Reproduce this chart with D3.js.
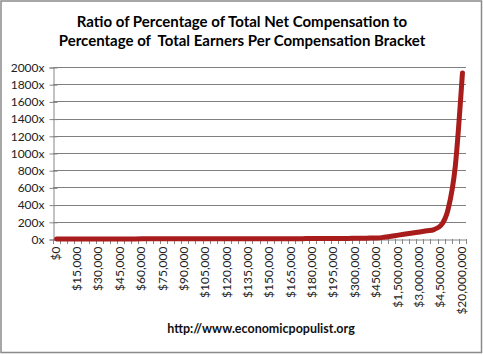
<!DOCTYPE html>
<html><head><meta charset="utf-8">
<script src="https://cdn.jsdelivr.net/npm/d3@7"></script>
<style>body{margin:0;background:#fff}svg{display:block}.title{white-space:pre}</style>
</head><body>
<script>
const categories = ["$0","$5,000","$10,000","$15,000","$20,000","$25,000","$30,000","$35,000","$40,000","$45,000",
"$50,000","$55,000","$60,000","$65,000","$70,000","$75,000","$80,000","$85,000","$90,000","$95,000",
"$100,000","$105,000","$110,000","$115,000","$120,000","$125,000","$130,000","$135,000","$140,000","$145,000",
"$150,000","$155,000","$160,000","$165,000","$170,000","$175,000","$180,000","$185,000","$190,000","$195,000",
"$200,000","$250,000","$300,000","$350,000","$400,000","$450,000","$500,000","$1,000,000","$1,500,000","$2,000,000",
"$2,500,000","$3,000,000","$3,500,000","$4,000,000","$4,500,000","$5,000,000","$10,000,000","$20,000,000"];
const ratios = [0.1,0.2,0.3,0.4,0.6,0.7,0.8,0.9,1.1,1.2,
1.3,1.4,1.6,1.7,1.8,1.9,2.1,2.2,2.3,2.4,
2.6,2.7,2.8,2.9,3.1,3.2,3.3,3.4,3.6,3.7,
3.8,3.9,4.1,4.2,4.3,4.4,4.6,4.7,4.8,4.9,
5.6,6.9,8.1,9.4,10.6,12,20,32,45,57,
70,82,95,110,160,350,850,1930];
const yTicks = [0,200,400,600,800,1000,1200,1400,1600,1800,2000];
const titleLines = ["Ratio of Percentage of Total Net Compensation to","Percentage of  Total Earners Per Compensation Bracket"];
const footer = "http://www.economicpopulist.org";

const W=483,H=355;
const svg=d3.select("body").append("svg").attr("width",W).attr("height",H);
svg.append("rect").attr("x",1).attr("y",1).attr("width",480.5).attr("height",351.5)
  .attr("fill","#fff").attr("stroke","#8a8a8a").attr("stroke-width",1.5);

const L=53,R=466,T=67,B=239;
const x=d3.scaleBand().domain(categories).range([L,R]).paddingInner(0).paddingOuter(0);
const y=d3.scaleLinear().domain([0,2000]).range([B,T]);
const font="Lato, 'Open Sans', sans-serif";

svg.selectAll("text.title").data(titleLines).join("text").attr("class","title")
  .attr("x",242).attr("y",(d,i)=>27+i*19).attr("text-anchor","middle")
  .attr("font-family",font).attr("font-weight","bold").attr("font-size",15).attr("fill","#000")
  .text(d=>d);

// gridlines
svg.append("g").selectAll("line").data(yTicks.slice(1)).join("line")
  .attr("x1",L).attr("x2",R).attr("y1",d=>Math.round(y(d))+0.5).attr("y2",d=>Math.round(y(d))+0.5)
  .attr("stroke","#7f7f7f").attr("stroke-width",1);

// y axis
const yAxis=svg.append("g").attr("transform",`translate(${L+0.5},0.5)`)
  .call(d3.axisLeft(y).tickValues(yTicks).tickSize(4).tickPadding(5).tickFormat(d=>d+"x"));
yAxis.select(".domain").attr("stroke","#868686");
yAxis.selectAll(".tick line").attr("stroke","#868686").attr("x1",4);
yAxis.selectAll("text").attr("font-family",font).attr("font-size",12).attr("fill","#222");

// x axis
const xAxis=svg.append("g").attr("transform",`translate(0,${B+0.5})`)
  .call(d3.axisBottom(x).tickSize(0).tickFormat((d,i)=>i%3===0?d:""));
xAxis.select(".domain").attr("stroke","#868686");
xAxis.selectAll(".tick text").attr("font-family",font).attr("font-size",12).attr("fill","#222")
  .attr("text-anchor","end").attr("dy","0.35em")
  .attr("transform","translate(-1,7) rotate(-90)").attr("x",0).attr("y",0);
// boundary ticks
const bounds=categories.map(c=>x(c)).concat([R]);
svg.append("g").selectAll("line").data(bounds).join("line")
  .attr("x1",d=>Math.round(d)+0.5).attr("x2",d=>Math.round(d)+0.5)
  .attr("y1",B).attr("y2",B+5).attr("stroke","#868686");

// line
const line=d3.line().x((d,i)=>x(categories[i])+x.bandwidth()/2).y(d=>y(d)).curve(d3.curveMonotoneX);
svg.append("path").datum(ratios).attr("d",line).attr("fill","none")
  .attr("stroke","#a81c1c").attr("stroke-width",5).attr("stroke-linejoin","round").attr("stroke-linecap","round");

svg.append("text").attr("x",261).attr("y",333).attr("text-anchor","middle")
  .attr("font-family",font).attr("font-weight","bold").attr("font-size",12.5).attr("fill","#111").text(footer);
</script>
</body></html>
